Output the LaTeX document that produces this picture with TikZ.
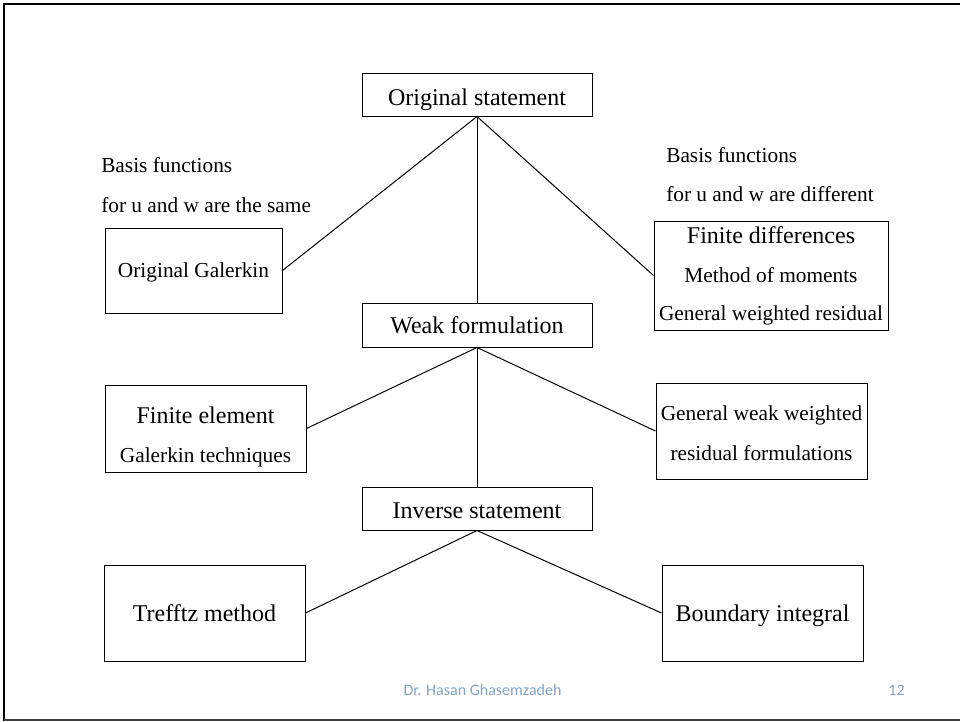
\documentclass[tikz,border=0pt]{standalone}
\usepackage{fontspec}
\setmainfont{Liberation Serif}
\newfontfamily\footfont{Carlito}
\usetikzlibrary{fit}
\definecolor{footblue}{RGB}{134,162,196}
\begin{document}
\begin{tikzpicture}[x=0.75pt,y=-0.75pt,
  box/.style={draw, line width=0.75pt, inner sep=0pt},
  tsmall/.style={font=\fontsize{16}{19}\selectfont, inner sep=0pt, anchor=base},
  tbig/.style={font=\fontsize{18}{22}\selectfont, inner sep=0pt, anchor=base},
  conn/.style={line width=0.75pt},
  foot/.style={font=\footfont\fontsize{12}{14}\selectfont, text=footblue, inner sep=0pt, anchor=base}]
\useasboundingbox (0,0) rectangle (960,721);
% frame
\draw[line width=2pt] (4,721) -- (4,4) -- (960,4);
\draw[line width=1.2pt, black!75] (4,720) -- (960,720);
% boxes
\node[box, fit={(362,73) (592,116)}] (os) {};
\node[box, fit={(105,228) (282,313)}] (og) {};
\node[box, fit={(654,221) (888,330)}] (fd) {};
\node[box, fit={(362,303) (592,347)}] (wf) {};
\node[box, fit={(105,385) (306,472)}] (fe) {};
\node[box, fit={(656,383) (867,479)}] (wr) {};
\node[box, fit={(362,487) (592,530)}] (is) {};
\node[box, fit={(104,565) (305,661)}] (tr) {};
\node[box, fit={(662,565) (863,661)}] (bi) {};
% texts
\node[tbig] (ost) at (477,105) {Original statement};
\node[tsmall, anchor=base west] (bl1) at (101,172) {Basis functions};
\node[tsmall, anchor=base west] (bl2) at (101,212) {for u and w are the same};
\node[tsmall, anchor=base west] (br1) at (666,162) {Basis functions};
\node[tsmall, anchor=base west] (br2) at (666,201) {for u and w are different};
\node[tsmall] (ogt) at (193.5,277) {Original Galerkin};
\node[tbig] (fdt1) at (771,243) {Finite differences};
\node[tsmall] (fdt2) at (771,282) {Method of moments};
\node[tsmall] (fdt3) at (771,320) {General weighted residual};
\node[tbig] (wft) at (477,333) {Weak formulation};
\node[tbig] (fet1) at (205.5,423) {Finite element};
\node[tsmall] (fet2) at (205.5,462) {Galerkin techniques};
\node[tsmall] (wrt1) at (761.5,420) {General weak weighted};
\node[tsmall] (wrt2) at (761.5,460) {residual formulations};
\node[tbig] (ist) at (477,518) {Inverse statement};
\node[tbig] (trt) at (204.5,621) {Trefftz method};
\node[tbig] (bit) at (762.5,621) {Boundary integral};
% connectors
\draw[conn] (os.south) -- (og.east);
\draw[conn] (os.south) -- (wf.north);
\draw[conn] (os.south) -- (fd.west);
\draw[conn] (wf.south) -- (fe.east);
\draw[conn] (wf.south) -- (wr.west);
\draw[conn] (wf.south) -- (is.north);
\draw[conn] (is.south) -- (tr.east);
\draw[conn] (is.south) -- (bi.west);
% footer
\node[foot] (author) at (482.5,695) {Dr. Hasan Ghasemzadeh};
\node[foot] (page) at (896.5,695) {12};
\end{tikzpicture}
\end{document}
